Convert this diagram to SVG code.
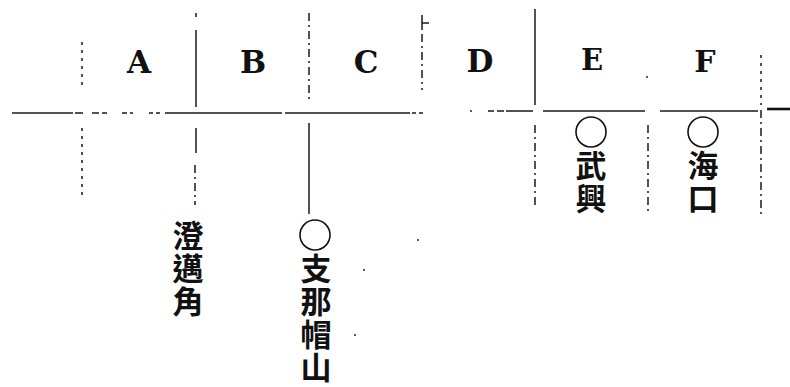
<svg xmlns="http://www.w3.org/2000/svg" width="790" height="387" viewBox="0 0 790 387">
<style>
.ln{stroke:#1a1a1a;stroke-width:1.5;fill:none}
.dash{stroke:#1a1a1a;stroke-width:1.5;fill:none;stroke-dasharray:8 4 2 4}
.dot{stroke:#1a1a1a;stroke-width:1.5;fill:none;stroke-dasharray:3 5}
.lat{font-family:"DejaVu Serif",serif;font-weight:bold;font-size:31px;fill:#111;text-anchor:middle}
.cjk{font-family:"Noto Sans CJK TC","Noto Sans CJK JP",sans-serif;font-weight:bold;font-size:31px;fill:#111;writing-mode:vertical-rl;letter-spacing:2px}
.cir{stroke:#111;stroke-width:1.6;fill:none}
.speck{fill:#222}
</style>
<rect width="790" height="387" fill="#fff"/>
<g id="connectors">
  <path class="ln" d="M12,113 H73"/>
  <path class="ln" d="M75,113 H83 M92,113 H99 M102,113 H107 M122,113 H127 M130,113 H133 M149,113 H153 M156,113 H160"/>
  <path class="ln" d="M165,113 H282 M285,113 H410"/>
  <path class="ln" d="M412,113 H416 M419,113 H423"/>
  <path class="ln" d="M488,111 H494 M497,111 H504 M506,111 H533 M543,111 H645 M660,111 H758"/>
  <path stroke="#111" stroke-width="2.6" d="M767,109 H790"/>
  <path class="dot" d="M82,42 V88"/>
  <path class="dot" d="M82,128 V200"/>
  <path class="ln" d="M196,13 V17 M196,30 V107"/>
  <path class="ln" d="M196,128 V153"/>
  <path class="dash" d="M195,165 V205"/>
  <path class="dash" d="M309,13 V103"/>
  <path class="ln" d="M309,123 V214"/>
  <path class="ln" d="M422,15 V30 M422,23 H429"/>
  <path class="dash" d="M422,34 V90"/>
  <path class="ln" d="M535,9 V105"/>
  <path class="dash" d="M535,125 V205"/>
  <path class="dash" d="M648,125 V215"/>
  <path class="dot" d="M761,55 V105"/>
  <path class="dash" d="M761,110 V215"/>
</g>
<g id="specks">
  <circle class="speck" cx="647" cy="77" r="1"/>
  <circle class="speck" cx="471" cy="111" r="1"/>
  <circle class="speck" cx="364" cy="270" r="1"/>
  <circle class="speck" cx="355" cy="335" r="1"/>
  <circle class="speck" cx="418" cy="240" r="1"/>
</g>
<g id="node-A"><text class="lat" x="139" y="73">A</text></g>
<g id="node-B"><text class="lat" x="253" y="73">B</text></g>
<g id="node-C"><text class="lat" x="366" y="73">C</text></g>
<g id="node-D"><text class="lat" x="480" y="72">D</text></g>
<g id="node-E"><text class="lat" x="592" y="70" style="font-size:29px">E</text></g>
<g id="node-F"><text class="lat" x="705" y="72" style="font-size:30px">F</text></g>
<g id="node-chengmai">
  <text class="cjk" x="188" y="220">澄邁角</text>
</g>
<g id="node-zhinamaoshan">
  <circle class="cir" cx="315" cy="235" r="15"/>
  <text class="cjk" x="316" y="253">支那帽山</text>
</g>
<g id="node-wuxing">
  <circle class="cir" cx="591" cy="132" r="15"/>
  <text class="cjk" x="591" y="150">武興</text>
</g>
<g id="node-haikou">
  <circle class="cir" cx="703" cy="132" r="15"/>
  <text class="cjk" x="703" y="150">海口</text>
</g>
</svg>
